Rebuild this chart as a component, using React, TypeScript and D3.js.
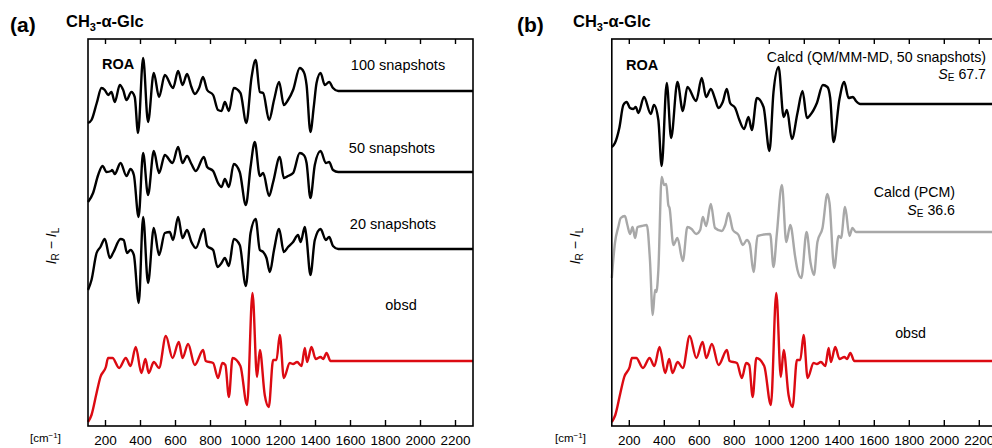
import * as d3 from 'd3'

// tick labels on the wavenumber axis
const xTicks = [200, 400, 600, 800, 1000, 1200, 1400, 1600, 1800, 2000, 2200]

// ROA intensities (arbitrary units, relative to each trace's flat baseline)
const snap100: [number, number][] = [
  [100, -32], [120, -29], [150, -12], [177, 3], [196, 1], [215, -4], [234, -1], [253, -11],
  [282, 6], [301, 1], [320, -9], [348, -1], [367, -6], [386, -42], [415, 33], [443, -31],
  [476, 18], [506, -6], [539, 16], [586, 3], [615, 20], [640, 6], [666, 17], [691, 4],
  [710, -3], [735, 3], [757, 14], [781, 1], [815, -4], [843, -19], [863, -20], [882, -11],
  [905, -20], [933, 3], [971, -2], [1005, -32], [1034, 13], [1058, 31], [1082, -1], [1101, -2],
  [1135, -29], [1163, -9], [1192, 9], [1219, -14], [1243, -9], [1272, 1], [1310, 23], [1333, 19],
  [1349, 6], [1371, -41], [1390, -16], [1406, 8], [1429, 18], [1453, 6], [1478, 9], [1500, 3],
  [1530, 0], [2300, 0],
]

const snap50: [number, number][] = [
  [100, -30], [129, -21], [158, -3], [183, 6], [206, 0], [232, 1], [238, 2], [253, -2],
  [286, 9], [320, -4], [343, 3], [362, -3], [389, -45], [415, 19], [443, -23], [476, 21],
  [506, -1], [539, 17], [583, 9], [615, 25], [640, 9], [666, 16], [691, 8], [716, 1],
  [762, 15], [781, 5], [815, 1], [843, -11], [863, -15], [882, -7], [905, -15], [933, 8],
  [967, 0], [1002, -33], [1029, 5], [1053, 30], [1082, -4], [1101, -1], [1135, -24], [1158, -10],
  [1196, 15], [1219, -6], [1243, -4], [1272, -1], [1310, 19], [1333, 17], [1349, 9], [1371, -26],
  [1396, 7], [1429, 21], [1459, 9], [1478, 10], [1500, 2], [1530, 0], [2300, 0],
]

const snap20: [number, number][] = [
  [100, -41], [120, -31], [149, -4], [171, 2], [196, 10], [225, -9], [243, -4], [286, 10],
  [304, 9], [323, -4], [343, -1], [362, -6], [390, -54], [415, 32], [443, -34], [476, 21],
  [506, -6], [539, 16], [567, 17], [586, 9], [615, 32], [640, 11], [666, 19], [691, 7],
  [716, 1], [762, 20], [781, 3], [815, -1], [840, -18], [863, -14], [882, -9], [905, -17],
  [933, 10], [967, 4], [1002, -37], [1029, 16], [1058, 30], [1082, -1], [1101, -3], [1120, -9],
  [1139, -23], [1163, -1], [1192, 20], [1219, -3], [1243, 2], [1272, 7], [1300, 14], [1315, 7],
  [1339, 22], [1349, 11], [1371, -26], [1396, 9], [1429, 20], [1459, 9], [1478, 12], [1500, 3],
  [1530, 0], [2300, 0],
]

const observed: [number, number][] = [
  [100, -61], [120, -54], [149, -32], [171, -16], [202, -6], [215, 3], [240, 3], [278, -7],
  [316, 3], [343, -5], [373, 14], [405, -12], [428, 2], [447, -12], [476, -1], [506, -7],
  [545, 25], [583, 3], [619, 19], [640, 3], [672, 17], [710, -4], [758, 11], [773, 0],
  [815, -2], [843, -17], [868, -2], [885, -4], [905, -36], [926, 3], [971, -5], [1009, -44],
  [1040, 68], [1066, -16], [1082, 11], [1110, -34], [1133, -46], [1158, 1], [1177, 1], [1196, 26],
  [1219, -17], [1253, -2], [1272, -3], [1295, -1], [1320, -5], [1339, 13], [1352, -1], [1377, 14],
  [1401, 2], [1429, 4], [1444, 2], [1463, 8], [1486, 0], [2300, 0],
]

const qmmm: [number, number][] = [
  [100, -43], [118, -39], [143, -24], [166, -1], [185, 2], [204, -4], [223, -5], [237, -3],
  [252, -9], [284, 7], [323, -10], [341, -1], [366, -16], [385, -62], [414, 21], [439, -34],
  [475, 22], [506, -7], [532, 17], [582, 3], [614, 26], [639, 7], [666, 15], [690, 5],
  [709, -4], [734, 2], [757, 15], [776, 1], [805, -4], [829, -16], [856, -25], [881, -13],
  [900, -26], [929, 6], [967, -3], [1001, -47], [1024, 12], [1053, 37], [1082, -13], [1101, -6],
  [1129, -35], [1161, -9], [1190, 13], [1215, -14], [1234, -11], [1272, 1], [1306, 19], [1332, 17],
  [1348, 6], [1367, -38], [1401, 5], [1428, 22], [1453, 6], [1478, 7], [1495, 3], [1520, 0],
  [2300, 0],
]

const pcm: [number, number][] = [
  [100, -46], [118, -11], [137, 5], [151, 14], [175, 16], [189, 7], [204, -2], [219, 5],
  [233, -6], [247, 5], [271, 6], [300, 7], [318, -28], [334, -83], [347, -58], [355, -60],
  [366, -38], [385, 55], [399, 47], [411, 48], [423, 27], [430, 24], [452, -13], [475, -6],
  [506, -29], [532, 5], [556, 3], [582, -2], [605, 2], [620, 15], [639, 6], [666, 28],
  [690, 4], [728, 1], [748, 7], [767, 19], [792, 2], [824, -3], [849, -13], [872, -8],
  [888, -12], [910, -40], [933, -4], [1005, -2], [1024, -35], [1043, -2], [1072, 47], [1097, -10],
  [1120, 7], [1148, -25], [1161, -38], [1183, -46], [1213, 0], [1236, -31], [1255, -43], [1275, -10],
  [1304, 4], [1332, 38], [1344, 29], [1371, -36], [1396, -4], [1410, -6], [1433, 25], [1458, -4],
  [1475, 4], [1495, 0], [2300, 0],
]

const FONT = 'Liberation Sans, Arial, Helvetica, sans-serif'
const TOP = 39
const BOTTOM = 426
const RED = '#dc0a12'
const GRAY = '#a8a8a8'

const y = d3.scaleLinear().domain([0, 387]).range([BOTTOM, TOP])

type Trace = { data: [number, number][]; offset: number; color: string }

function Panel({ left, traces }: { left: number; traces: Trace[] }) {
  const x = d3.scaleLinear().domain([100, 2300]).range([left, left + 385])
  return (
    <g>
      {traces.map((t, i) => {
        const line = d3
          .line<[number, number]>()
          .x((d) => x(d[0]))
          .y((d) => y(d[1] + t.offset))
          .curve(d3.curveMonotoneX)
        return (
          <path key={i} d={line(t.data) || ''} fill="none" stroke={t.color}
            strokeWidth={2.4} strokeLinejoin="round" />
        )
      })}
      <rect x={x(100)} y={TOP} width={x(2300) - x(100)} height={BOTTOM - TOP}
        fill="none" stroke="#000" strokeWidth={1.6} />
      {xTicks.map((t) => (
        <g key={t}>
          <line x1={x(t)} x2={x(t)} y1={BOTTOM} y2={BOTTOM - 6} stroke="#000" strokeWidth={1.4} />
          <line x1={x(t)} x2={x(t)} y1={TOP} y2={TOP + 5} stroke="#000" strokeWidth={1.4} />
          <text x={x(t)} y={445} textAnchor="middle" fontSize={13.5}>{t}</text>
        </g>
      ))}
    </g>
  )
}

function YLabel({ cx }: { cx: number }) {
  return (
    <text transform={`translate(${cx},246) rotate(-90)`} textAnchor="middle" fontSize={14}>
      <tspan fontStyle="italic">I</tspan>
      <tspan fontSize={10} dy={3}>R</tspan>
      <tspan dy={-3}> − </tspan>
      <tspan fontStyle="italic">I</tspan>
      <tspan fontSize={10} dy={3}>L</tspan>
    </text>
  )
}

function Title({ x, tag }: { x: number; tag: string }) {
  return (
    <g>
      <text x={x} y={32} fontSize={21} fontWeight="bold">{tag}</text>
      <text x={x + 56} y={27} fontSize={16.5} fontWeight="bold">
        CH<tspan fontSize={11} dy={4}>3</tspan>
        <tspan dy={-4}>-α-Glc</tspan>
      </text>
    </g>
  )
}

function Unit({ x }: { x: number }) {
  return (
    <text x={x} y={442} fontSize={11.5}>
      [cm<tspan fontSize={8} dy={-4}>−1</tspan>
      <tspan dy={4}>]</tspan>
    </text>
  )
}

export default function App() {
  return (
    <svg width={992} height={448} fontFamily={FONT}
      style={{ position: 'absolute', left: 0, top: 0, background: '#fff' }}>
      {/* panel (a) */}
      <Title x={10} tag="(a)" />
      <YLabel cx={56} />
      <Unit x={30} />
      <Panel
        left={88}
        traces={[
          { data: snap100, offset: 335, color: '#000' },
          { data: snap50, offset: 254, color: '#000' },
          { data: snap20, offset: 177, color: '#000' },
          { data: observed, offset: 65, color: RED },
        ]}
      />
      <text x={102} y={69} fontSize={14.5} fontWeight="bold">ROA</text>
      <text x={398} y={70} fontSize={14.5} textAnchor="middle">100 snapshots</text>
      <text x={392} y={153} fontSize={14.5} textAnchor="middle">50 snapshots</text>
      <text x={393} y={229} fontSize={14.5} textAnchor="middle">20 snapshots</text>
      <text x={401} y={310} fontSize={14.5} textAnchor="middle">obsd</text>

      {/* panel (b) */}
      <Title x={517} tag="(b)" />
      <YLabel cx={580} />
      <Unit x={555} />
      <Panel
        left={611.8}
        traces={[
          { data: qmmm, offset: 322, color: '#000' },
          { data: pcm, offset: 194, color: GRAY },
          { data: observed, offset: 65, color: RED },
        ]}
      />
      <text x={626} y={70} fontSize={14.5} fontWeight="bold">ROA</text>
      <text x={986} y={62} fontSize={14.2} textAnchor="end">Calcd (QM/MM-MD, 50 snapshots)</text>
      <text x={986} y={79} fontSize={14.2} textAnchor="end">
        <tspan fontStyle="italic">S</tspan>
        <tspan fontSize={10} dy={2}>E</tspan>
        <tspan dy={-2}> 67.7</tspan>
      </text>
      <text x={955} y={197} fontSize={14.2} textAnchor="end">Calcd (PCM)</text>
      <text x={955} y={215} fontSize={14.2} textAnchor="end">
        <tspan fontStyle="italic">S</tspan>
        <tspan fontSize={10} dy={2}>E</tspan>
        <tspan dy={-2}> 36.6</tspan>
      </text>
      <text x={926} y={338} fontSize={14.2} textAnchor="end">obsd</text>
    </svg>
  )
}
